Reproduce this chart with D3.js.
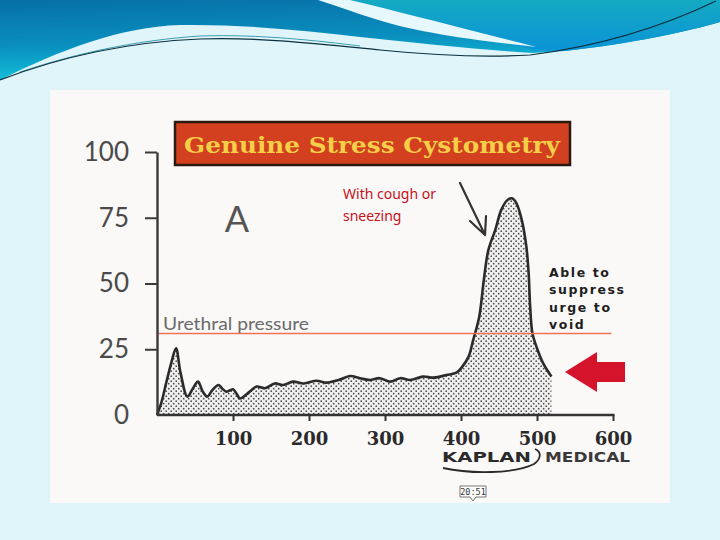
<!DOCTYPE html>
<html><head><meta charset="utf-8">
<script src="https://cdn.jsdelivr.net/npm/d3@7"></script>
<style>html,body{margin:0;padding:0;background:#dff5fa;}svg{display:block;}</style>
</head><body>
<svg id="c" width="720" height="540"></svg>
<script>
// ---- data ----
const volume = [0, 6, 13, 19, 25, 31, 40, 47, 54, 60, 66, 73, 81, 86, 91, 96, 100, 105, 109, 122, 131, 142, 155, 166, 179, 193, 210, 223, 239, 254, 267, 280, 293, 307, 320, 333, 350, 364, 381, 394, 401, 410, 416, 424, 430, 436, 445, 453, 461, 467, 473, 480, 486, 489, 491, 494, 500, 508, 519];
const pressure = [0, 5, 13.3, 20, 25.4, 16, 7.0, 10, 12.7, 9, 7.0, 9.5, 11.4, 10, 8.9, 9.4, 9.8, 8, 6.3, 8.9, 10.8, 10.2, 12.0, 11.4, 12.7, 12.0, 13.0, 12.3, 13.3, 14.8, 14.0, 13.3, 14.0, 12.7, 14.0, 13.3, 14.6, 14.2, 15.2, 16.1, 18.1, 22.2, 28.5, 37.4, 51.3, 62.7, 70.3, 78, 81.7, 82.4, 80.5, 74.1, 64, 53.9, 41.2, 31.1, 25.4, 19.7, 14.6];
const xTicks = [100, 200, 300, 400, 500, 600];
const yTicks = [0, 25, 50, 75, 100];
const urethralPressure = 31;
const title = "Genuine Stress Cystometry";
const coughLabel = ["With cough or", "sneezing"];
const suppressLabel = ["Able to", "suppress", "urge to", "void"];

const svg = d3.select("#c");
const defs = svg.append("defs");

// background decoration
const g1 = defs.append("linearGradient").attr("id","bg1").attr("x1",0).attr("y1",0).attr("x2",0.25).attr("y2",1);
g1.append("stop").attr("offset","0").attr("stop-color","#0670a6");
g1.append("stop").attr("offset","0.55").attr("stop-color","#0a8fbf");
g1.append("stop").attr("offset","1").attr("stop-color","#14c4da");
const g2 = defs.append("linearGradient").attr("id","bg2").attr("x1",0).attr("y1",0).attr("x2",0).attr("y2",1);
g2.append("stop").attr("offset","0").attr("stop-color","#14aac2");
g2.append("stop").attr("offset","1").attr("stop-color","#0b93d6");

svg.append("rect").attr("width",720).attr("height",540).attr("fill","#dff5fa");
svg.append("path").attr("fill","url(#bg1)")
  .attr("d","M0,0 H720 V22 C690,31 630,44 565,51 L533,53 C480,50 420,43 360,37 C300,30 240,24 180,25 C120,27 60,50 0,80 Z");
svg.append("path").attr("fill","url(#bg2)")
  .attr("d","M340,0 H720 V22 C690,31 630,44 565,51 L533,50 C480,35 420,15 340,0 Z");
svg.append("path").attr("fill","#e6f8fc")
  .attr("d","M318,0 L350,0 C400,12 470,30 536,47 C470,40 410,31 372,18 C350,11 334,5 318,0 Z");
svg.append("path").attr("fill","none").attr("stroke","#3c9db2").attr("stroke-width",1)
  .attr("d","M20,72 C80,52 140,40 200,36 C260,34 320,41 360,46");
svg.append("path").attr("fill","none").attr("stroke","#0c2f3e").attr("stroke-width",1.2)
  .attr("d","M0,80 C60,57 130,42 200,39 C260,37 320,44 380,50 C430,55 480,58 530,55 C600,46 660,28 716,1");

// white panel
svg.append("rect").attr("x",50).attr("y",90).attr("width",620).attr("height",413).attr("fill","#fbf8f8");

// scales
const x = d3.scaleLinear().domain([0, 600]).range([157, 613]);
const y = d3.scaleLinear().domain([0, 100]).range([415, 152]);

// stipple pattern
const pat = defs.append("pattern").attr("id","dots").attr("patternUnits","userSpaceOnUse").attr("width",5).attr("height",5);
pat.append("rect").attr("width",5).attr("height",5).attr("fill","#f0f0f0");
pat.append("circle").attr("cx",1.2).attr("cy",1.2).attr("r",0.85).attr("fill","#4a4a4a");
pat.append("circle").attr("cx",3.7).attr("cy",3.7).attr("r",0.85).attr("fill","#4a4a4a");

const pts = volume.map((v,i)=>[v, pressure[i]]);
const area = d3.area().x(d=>x(d[0])).y0(y(0)).y1(d=>y(d[1])).curve(d3.curveCatmullRom.alpha(0.5));
const line = d3.line().x(d=>x(d[0])).y(d=>y(d[1])).curve(d3.curveCatmullRom.alpha(0.5));
svg.append("path").datum(pts).attr("d",area).attr("fill","url(#dots)");
svg.append("path").datum(pts).attr("d",line).attr("fill","none").attr("stroke","#2b2b2b").attr("stroke-width",2.6).attr("stroke-linejoin","round");

// urethral pressure line
svg.append("line").attr("x1",x(2)).attr("x2",x(598)).attr("y1",y(urethralPressure)).attr("y2",y(urethralPressure))
  .attr("stroke","#ee7352").attr("stroke-width",1.6);
svg.append("text").attr("x",163).attr("y",y(urethralPressure)-3).text("Urethral pressure")
  .attr("font-family","Lato, 'Open Sans', sans-serif").attr("font-weight",400).attr("font-size",17).attr("fill","#6a6a6a")
  .attr("textLength",146).attr("lengthAdjust","spacingAndGlyphs");

// x axis
const xa = svg.append("g").attr("transform",`translate(0,${y(0)})`)
  .call(d3.axisBottom(x).tickValues(xTicks).tickSize(6).tickSizeOuter(0).tickPadding(11).tickFormat(d3.format("d")));
xa.select(".domain").attr("stroke","#333").attr("stroke-width",2.4).attr("d",`M${x(0)},0H${x(602)}`);
xa.selectAll(".tick line").attr("stroke","#333").attr("stroke-width",2);
xa.selectAll(".tick text").attr("font-family","'DejaVu Serif', serif").attr("font-weight","bold").attr("font-size",18).attr("fill","#2a2a2a").attr("dy","0.71em");

// y axis
const ya = svg.append("g").attr("transform",`translate(${x(0)},0)`)
  .call(d3.axisLeft(y).tickValues(yTicks).tickSize(12).tickSizeOuter(0).tickPadding(16));
ya.select(".domain").attr("stroke","#3a3a3a").attr("stroke-width",2.4);
ya.selectAll(".tick line").attr("stroke","#3a3a3a").attr("stroke-width",2).filter(d=>d===0).remove();
ya.selectAll(".tick text").attr("font-family","Lato, 'Open Sans', sans-serif").attr("font-weight",400).attr("font-size",26).attr("fill","#4a4a4a");

// title box
svg.append("rect").attr("x",175).attr("y",122).attr("width",395).attr("height",43)
  .attr("fill","#d2401f").attr("stroke","#2a1a10").attr("stroke-width",2.5);
svg.append("text").attr("x",372).attr("y",153).attr("text-anchor","middle").text(title)
  .attr("font-family","'DejaVu Serif', serif").attr("font-weight","bold").attr("font-size",22).attr("fill","#f5cf48")
  .attr("textLength",376).attr("lengthAdjust","spacingAndGlyphs");

// "A"
svg.append("text").attr("x",237).attr("y",232).attr("text-anchor","middle").text("A")
  .attr("font-family","Lato, 'Open Sans', sans-serif").attr("font-weight",400).attr("font-size",36).attr("fill","#555");

// cough label
svg.append("g").selectAll("text").data(coughLabel).join("text")
  .attr("x",343).attr("y",(d,i)=>199+i*22).text(d=>d)
  .attr("font-family","'Noto Sans', 'Open Sans', sans-serif").attr("font-size",14).attr("fill","#c8101a");

// black arrow
svg.append("path").attr("d","M460,183 L485,235 M470,221 L485,235 L486,216")
  .attr("fill","none").attr("stroke","#333").attr("stroke-width",2.2).attr("stroke-linecap","round").attr("stroke-linejoin","round");

// suppress label
svg.append("g").selectAll("text").data(suppressLabel).join("text")
  .attr("x",549).attr("y",(d,i)=>277+i*17.4).text(d=>d)
  .attr("font-family","'DejaVu Sans', sans-serif").attr("font-weight","bold").attr("font-size",12.5)
  .attr("letter-spacing",1.6).attr("fill","#1e1e1e");

// red arrow
svg.append("path").attr("d","M565,372 L597,352 L597,362 L625,362 L625,382 L597,382 L597,392 Z").attr("fill","#d5132b");

// Kaplan logo
svg.append("text").attr("x",442).attr("y",462).text("KAPLAN")
  .attr("font-family","'DejaVu Sans', sans-serif").attr("font-weight","bold").attr("font-size",14)
  .attr("textLength",89).attr("lengthAdjust","spacingAndGlyphs").attr("fill","#2a2a2a");
svg.append("text").attr("x",545).attr("y",462).text("MEDICAL")
  .attr("font-family","'DejaVu Sans', sans-serif").attr("font-weight","bold").attr("font-size",14)
  .attr("textLength",85).attr("lengthAdjust","spacingAndGlyphs").attr("fill","#3a3a3a");
svg.append("path").attr("d","M535,449 C542,452 541,459 534,464 C515,474 470,474 443,468")
  .attr("fill","none").attr("stroke","#2a2a2a").attr("stroke-width",1.8);

// timestamp
svg.append("path").attr("d","M460,486 H486 V497 H476 L473,501 L470,497 H460 Z").attr("fill","#fff").attr("stroke","#555").attr("stroke-width",0.8);
svg.append("text").attr("x",473).attr("y",495).attr("text-anchor","middle").text("20:51")
  .attr("font-family","'DejaVu Sans Mono', monospace").attr("font-size",8.5).attr("fill","#333");
</script>
</body></html>
